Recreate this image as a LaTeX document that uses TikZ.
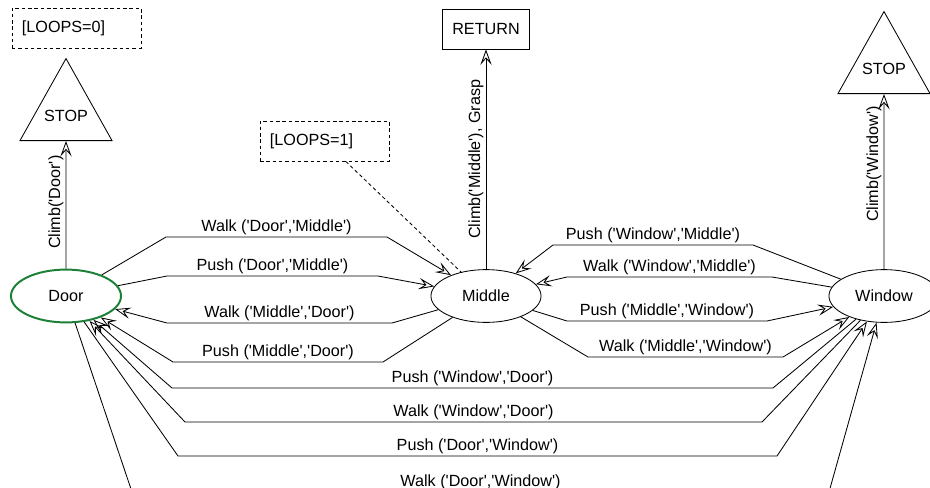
\documentclass[tikz,border=0pt]{standalone}
\usepackage{fontspec}
\setmainfont{Liberation Sans}
\usetikzlibrary{arrows.meta,shapes.geometric}
\definecolor{doorgreen}{RGB}{28,128,56}
\newcommand{\sq}{\textquotesingle}
\newcommand{\act}[3]{#1 (\sq#2\sq,\sq#3\sq)}

\begin{document}
\begin{tikzpicture}[
  x=0.025cm, y=-0.025cm,
  line width=0.6pt,
  font=\fontsize{11.5}{13}\selectfont,
  state/.style={ellipse,draw,minimum width=2.75cm,minimum height=1.32cm},
  goal/.style={isosceles triangle,shape border rotate=90,isosceles triangle stretches,
    draw,minimum width=2.3cm,minimum height=2.05cm,inner sep=0pt,text depth=0.33cm,anchor=south},
  result/.style={rectangle,draw,minimum width=2.175cm,minimum height=1cm},
  cond/.style={rectangle,draw,dash pattern=on 2.5pt off 2pt,minimum height=1cm,
    text width=2.725cm,inner xsep=0.25cm,align=left},
  trans/.style={-{Stealth[open,length=11pt,width=8pt,inset=4.5pt]}},
  lbl/.style={above,inner sep=1.5pt}
]
  \path[use as bounding box,fill=white] (0,0) rectangle (930,488);

  % states
  \node[state,draw=doorgreen,line width=1.4pt] (Door) at (66,296) {Door};
  \node[state] (Middle) at (486,296) {Middle};
  \node[state] (Window) at (884,296) {Window};

  % end nodes and conditions
  \node[goal] (stopL) at (66,141) {STOP};
  \node[goal] (stopR) at (884,94) {STOP};
  \node[result] (ret) at (486,29) {RETURN};
  \node[cond] (loop0) at (76.5,28) {[LOOPS=0]};
  \node[cond] (loop1) at (324.5,141) {[LOOPS=1]};

  \draw[dash pattern=on 2.5pt off 2pt] (loop1) -- (Middle);

  % climbing out
  \draw[trans] (Door) -- node[lbl,sloped,pos=0.52] {Climb(\sq Door\sq)} (stopL);
  \draw[trans] (Middle) -- node[lbl,sloped] {Climb(\sq Middle\sq), Grasp} (ret);
  \draw[trans] (Window) -- node[lbl,sloped,pos=0.6] {Climb(\sq Window\sq)} (stopR);

  % Door <-> Middle
  \draw[trans] (Door) -- (166,237) -- node[lbl] {\act{Walk}{Door}{Middle}} (387,237) -- (Middle);
  \draw[trans] (Door) -- (167,276) -- node[lbl] {\act{Push}{Door}{Middle}} (378,276) -- (Middle);
  \draw[trans] (Middle) -- (392,323) -- node[lbl] {\act{Walk}{Middle}{Door}} (167,323) -- (Door);
  \draw[trans] (Middle) -- (383,362) -- node[lbl] {\act{Push}{Middle}{Door}} (173,362) -- (Door);

  % Middle <-> Window
  \draw[trans] (Window) -- (753,245) -- node[lbl] {\act{Push}{Window}{Middle}} (553,245) -- (Middle);
  \draw[trans] (Window) -- (772,277) -- node[lbl] {\act{Walk}{Window}{Middle}} (567,277) -- (Middle);
  \draw[trans] (Middle) -- (567,321) -- node[lbl] {\act{Push}{Middle}{Window}} (767,321) -- (Window);
  \draw[trans] (Middle) -- (588,357) -- node[lbl] {\act{Walk}{Middle}{Window}} (783,357) -- (Window);

  % Door <-> Window
  \draw[trans] (Window) -- (773,388) -- node[lbl] {\act{Push}{Window}{Door}} (172,388) -- (Door);
  \draw[trans] (Window) -- (762,422) -- node[lbl] {\act{Walk}{Window}{Door}} (185,422) -- (Door);
  \draw[trans] (Door) -- (178,456) -- node[lbl] {\act{Push}{Door}{Window}} (777,456) -- (Window);
  \draw[trans] (Door) -- (132,492) -- node[lbl] {\act{Walk}{Door}{Window}} (829,492) -- (Window);
\end{tikzpicture}
\end{document}
